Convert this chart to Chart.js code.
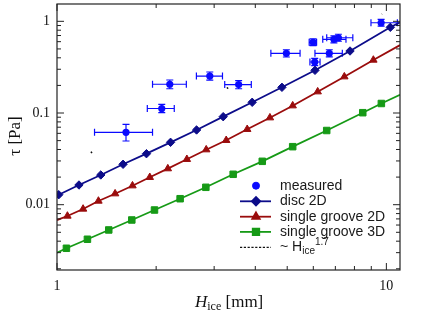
<!DOCTYPE html>
<html>
<head>
<meta charset="utf-8">
<script src="https://cdn.jsdelivr.net/npm/chart.js@4.4.1/dist/chart.umd.min.js"></script>
<style>
  html, body { margin: 0; padding: 0; background: #fff; }
  canvas { display: block; }
</style>
</head>
<body>
<canvas id="chart" width="436" height="323"></canvas>
<script>
// measured shear stress, with error ranges
const measH      = [1.62, 2.08, 2.20, 2.91, 3.56, 4.97, 5.99, 6.06, 6.71, 6.93, 7.15, 9.64];
const measTau    = [0.0615, 0.112, 0.206, 0.253, 0.204, 0.448, 0.590, 0.360, 0.448, 0.636, 0.662, 0.965];
const measHLo    = [1.30, 1.88, 1.95, 2.65, 3.23, 4.46, 5.83, 5.86, 6.07, 6.41, 6.59, 8.98];
const measHHi    = [1.95, 2.27, 2.47, 3.18, 3.89, 5.47, 6.14, 6.29, 7.35, 7.54, 7.91, 10.8];
const measTauLo  = [0.0495, 0.101, 0.184, 0.228, 0.184, 0.408, 0.542, 0.329, 0.410, 0.582, 0.606, 0.885];
const measTauHi  = [0.0753, 0.124, 0.229, 0.280, 0.226, 0.490, 0.642, 0.394, 0.490, 0.695, 0.723, 1.05];

// simulations (first and last entries are where the line meets the frame)
const discH   = [1, 1.012, 1.166, 1.358, 1.587, 1.869, 2.212, 2.653, 3.196, 3.914, 4.819, 6.072, 7.756, 10.28, 11];
const discTau = [0.0126, 0.01285, 0.0164, 0.0211, 0.0276, 0.0360, 0.0479, 0.0653, 0.0912, 0.1309, 0.1907, 0.2921, 0.4745, 0.8602, 0.973];

const groove2H   = [1, 1.0755, 1.200, 1.336, 1.501, 1.695, 1.913, 2.170, 2.479, 2.838, 3.264, 3.780, 4.431, 5.195, 6.187, 7.454, 9.131, 11];
const groove2Tau = [0.0068, 0.00753, 0.00898, 0.01097, 0.01318, 0.01611, 0.0199, 0.02472, 0.03128, 0.03981, 0.05039, 0.06643, 0.08884, 0.1201, 0.1707, 0.2488, 0.3784, 0.55];

const groove3H   = [1, 1.068, 1.237, 1.436, 1.687, 1.977, 2.365, 2.831, 3.427, 4.200, 5.195, 6.59, 8.479, 9.656, 11];
const groove3Tau = [0.0030, 0.003348, 0.004198, 0.005302, 0.006812, 0.008752, 0.01162, 0.01548, 0.02146, 0.02973, 0.04293, 0.06445, 0.1008, 0.127, 0.158];

// the ~H^1.7 guide only shows up as a few dots
const fitH   = [1.266, 3.281, 9.703];
const fitTau = [0.0369, 0.186, 1.20];

const xTickLabels = ['1', '10'];
const yTickLabels = ['0.01', '0.1', '1'];

const MEAS_COLOR = '#0a0aff';
const DISC_COLOR = '#0c0c8a';
const G2_COLOR = '#9a0c0c';
const G3_COLOR = '#169a16';

const pts = (xs, ys) => xs.map((v, i) => ({ x: v, y: ys[i] }));
const radii = (xs, r) => xs.map((_, i) => (i === 0 || i === xs.length - 1) ? 0 : r);

function logTicks(min, max) {
  const out = [];
  for (let e = -3; e <= 1; e++) {
    for (let k = 1; k <= 9; k++) {
      const v = k * Math.pow(10, e);
      if (v >= min * 0.999 && v <= max * 1.001) out.push({ value: v, major: k === 1 });
    }
  }
  return out;
}
const X_MIN = 1, X_MAX = 11, Y_MIN = 0.00194, Y_MAX = 1.545;
const xTicks = logTicks(X_MIN, X_MAX);
const yTicks = logTicks(Y_MIN, Y_MAX);

function labelFor(value, labels) {
  const hit = labels.find(l => Math.abs(parseFloat(l) - value) / value < 1e-6);
  return hit || '';
}

function noPadding(s) {
  s.paddingTop = 0; s.paddingBottom = 0; s.paddingLeft = 0; s.paddingRight = 0;
}

function drawMarker(ctx, style, r, x, y, color) {
  ctx.save();
  ctx.fillStyle = color;
  ctx.strokeStyle = color;
  Chart.helpers.drawPoint(ctx, { pointStyle: style, radius: r, rotation: 0, borderWidth: 1 }, x, y);
  ctx.restore();
}

const decorations = {
  id: 'decorations',
  beforeDatasetsDraw(chart) {
    const { ctx, scales: { x, y } } = chart;
    ctx.save();
    ctx.strokeStyle = MEAS_COLOR;
    ctx.lineWidth = 1.2;
    const c = 3.5;
    measH.forEach((h, i) => {
      const px = x.getPixelForValue(h), py = y.getPixelForValue(measTau[i]);
      const x0 = x.getPixelForValue(measHLo[i]), x1 = x.getPixelForValue(measHHi[i]);
      const y0 = y.getPixelForValue(measTauLo[i]), y1 = y.getPixelForValue(measTauHi[i]);
      ctx.beginPath();
      ctx.moveTo(x0, py); ctx.lineTo(x1, py);
      ctx.moveTo(x0, py - c); ctx.lineTo(x0, py + c);
      ctx.moveTo(x1, py - c); ctx.lineTo(x1, py + c);
      ctx.moveTo(px, y0); ctx.lineTo(px, y1);
      ctx.moveTo(px - c, y0); ctx.lineTo(px + c, y0);
      ctx.moveTo(px - c, y1); ctx.lineTo(px + c, y1);
      ctx.stroke();
    });
    ctx.restore();
  },
  afterDraw(chart) {
    const { ctx, chartArea: a, scales: { x, y } } = chart;
    ctx.save();
    // frame
    ctx.strokeStyle = '#222';
    ctx.lineWidth = 1.2;
    ctx.strokeRect(a.left, a.top, a.right - a.left, a.bottom - a.top);
    // inward ticks on all four sides
    ctx.lineWidth = 1;
    ctx.beginPath();
    xTicks.forEach(t => {
      const px = x.getPixelForValue(t.value), len = t.major ? 7 : 4;
      ctx.moveTo(px, a.bottom); ctx.lineTo(px, a.bottom - len);
      ctx.moveTo(px, a.top); ctx.lineTo(px, a.top + len);
    });
    yTicks.forEach(t => {
      const py = y.getPixelForValue(t.value), len = t.major ? 7 : 4;
      ctx.moveTo(a.left, py); ctx.lineTo(a.left + len, py);
      ctx.moveTo(a.right, py); ctx.lineTo(a.right - len, py);
    });
    ctx.stroke();

    // axis titles
    ctx.fillStyle = '#111';
    ctx.textBaseline = 'alphabetic';
    let tx = 195, base = 306.5;
    ctx.font = 'italic 17px "Liberation Serif"';
    ctx.fillText('H', tx, base);
    tx += ctx.measureText('H').width;
    ctx.font = '12px "Liberation Serif"';
    ctx.fillText('ice', tx, base + 3.5);
    tx += ctx.measureText('ice').width;
    ctx.font = '17px "Liberation Serif"';
    ctx.fillText(' [mm]', tx, base);

    ctx.save();
    ctx.translate(16, 136);
    ctx.rotate(-Math.PI / 2);
    ctx.textAlign = 'center';
    ctx.textBaseline = 'middle';
    ctx.font = '17px "Liberation Serif"';
    ctx.fillText('\u03c4 [Pa]', 0, 0);
    ctx.restore();

    // legend
    const lx0 = 240, lx1 = 271, mx = 256, textX = 280;
    const rows = [185.7, 201.3, 216.7, 231.9, 247.3];
    ctx.font = '14px "Liberation Sans"';
    ctx.textBaseline = 'middle';
    drawMarker(ctx, 'circle', 3.5, mx, rows[0], MEAS_COLOR);
    ctx.fillStyle = '#1a1a1a';
    ctx.fillText('measured', textX, rows[0]);
    const lineRows = [
      [DISC_COLOR, 'rectRot', 4.2, 'disc 2D'],
      [G2_COLOR, 'triangle', 4.3, 'single groove 2D'],
      [G3_COLOR, 'rect', 4.6, 'single groove 3D'],
    ];
    lineRows.forEach(([col, st, r, label], i) => {
      const yy = rows[i + 1];
      ctx.strokeStyle = col;
      ctx.lineWidth = 1.8;
      ctx.beginPath(); ctx.moveTo(lx0, yy); ctx.lineTo(lx1, yy); ctx.stroke();
      drawMarker(ctx, st, r, mx, yy, col);
      ctx.fillStyle = '#1a1a1a';
      ctx.fillText(label, textX, yy);
    });
    const yy = rows[4];
    ctx.strokeStyle = '#111';
    ctx.lineWidth = 1.2;
    ctx.setLineDash([2.2, 1.6]);
    ctx.beginPath(); ctx.moveTo(lx0, yy); ctx.lineTo(lx1, yy); ctx.stroke();
    ctx.setLineDash([]);
    ctx.fillStyle = '#1a1a1a';
    let lx = textX;
    ctx.fillText('~ H', lx, yy);
    lx += ctx.measureText('~ H').width;
    ctx.font = '10px "Liberation Sans"';
    ctx.fillText('ice', lx, yy + 3.5);
    lx += ctx.measureText('ice').width;
    ctx.fillText('1.7', lx, yy - 5);
    ctx.restore();
  }
};

new Chart(document.getElementById('chart'), {
  type: 'line',
  data: {
    datasets: [
      {
        label: 'measured',
        data: pts(measH, measTau),
        showLine: false,
        pointStyle: 'circle',
        pointRadius: 3.6,
        pointBackgroundColor: MEAS_COLOR,
        pointBorderColor: MEAS_COLOR,
        pointBorderWidth: 0,
      },
      {
        label: 'disc 2D',
        data: pts(discH, discTau),
        borderColor: DISC_COLOR,
        borderWidth: 1.8,
        pointStyle: 'rectRot',
        pointRadius: radii(discH, 4.2),
        pointBackgroundColor: DISC_COLOR,
        pointBorderColor: DISC_COLOR,
        pointBorderWidth: 1,
      },
      {
        label: 'single groove 2D',
        data: pts(groove2H, groove2Tau),
        borderColor: G2_COLOR,
        borderWidth: 1.8,
        pointStyle: 'triangle',
        pointRadius: radii(groove2H, 4.3),
        pointBackgroundColor: G2_COLOR,
        pointBorderColor: G2_COLOR,
        pointBorderWidth: 1,
      },
      {
        label: 'single groove 3D',
        data: pts(groove3H, groove3Tau),
        borderColor: G3_COLOR,
        borderWidth: 1.8,
        pointStyle: 'rect',
        pointRadius: radii(groove3H, 4.6),
        pointBackgroundColor: G3_COLOR,
        pointBorderColor: G3_COLOR,
        pointBorderWidth: 1,
      },
      {
        label: '~ Hice^1.7',
        data: pts(fitH, fitTau),
        borderColor: '#111',
        borderWidth: 1.6,
        borderDash: [1.6, 148.9, 1.6, 170.3],
        pointRadius: 0,
      },
    ],
  },
  options: {
    responsive: false,
    devicePixelRatio: 1,
    animation: false,
    events: [],
    layout: { padding: { top: 4, right: 36, left: 0, bottom: 0 } },
    plugins: { legend: { display: false }, tooltip: { enabled: false } },
    elements: { line: { tension: 0, fill: false } },
    scales: {
      x: {
        type: 'logarithmic',
        min: X_MIN,
        max: X_MAX,
        grid: { display: false, drawTicks: false },
        border: { display: false },
        afterBuildTicks: s => { s.ticks = xTicks.map(t => ({ value: t.value })); },
        afterFit: s => { s.height = 53; noPadding(s); },
        ticks: {
          autoSkip: false,
          maxRotation: 0,
          padding: 8,
          color: '#111',
          font: { family: 'Liberation Serif', size: 14 },
          callback: v => labelFor(v, xTickLabels),
        },
      },
      y: {
        type: 'logarithmic',
        min: Y_MIN,
        max: Y_MAX,
        grid: { display: false, drawTicks: false },
        border: { display: false },
        afterBuildTicks: s => { s.ticks = yTicks.map(t => ({ value: t.value })); },
        afterFit: s => { s.width = 57; noPadding(s); },
        ticks: {
          autoSkip: false,
          padding: 7,
          color: '#111',
          font: { family: 'Liberation Serif', size: 14 },
          callback: v => labelFor(v, yTickLabels),
        },
      },
    },
  },
  plugins: [decorations],
});
</script>
</body>
</html>
